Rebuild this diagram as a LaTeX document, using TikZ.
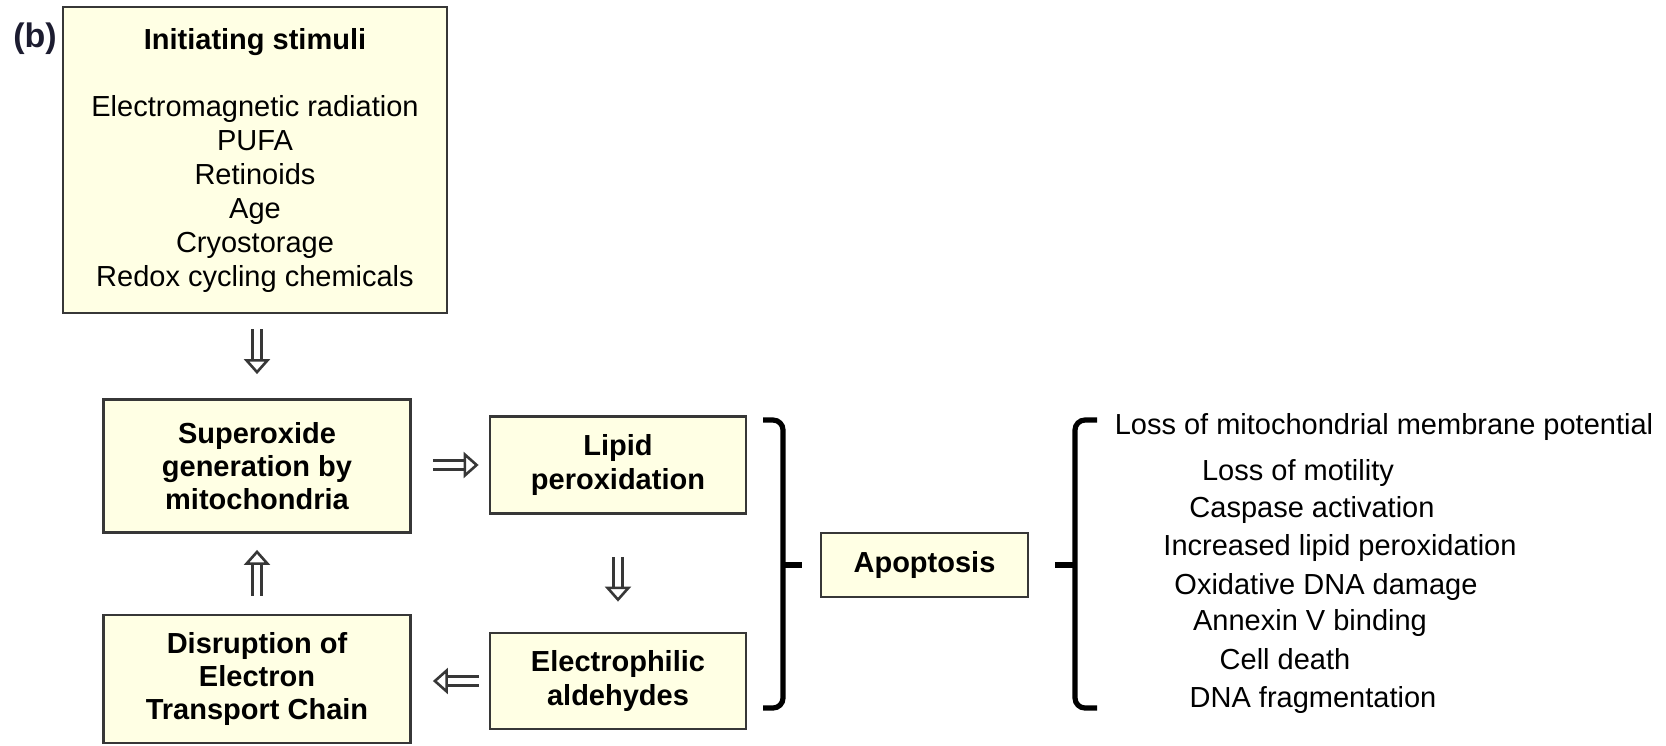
\documentclass[tikz,border=0pt]{standalone}
\usepackage{fontspec}
\setmainfont{Liberation Sans}
\usetikzlibrary{arrows.meta}

\definecolor{boxfill}{RGB}{255,255,228}
\definecolor{boxline}{RGB}{55,55,55}
\definecolor{arrline}{RGB}{55,55,55}
\definecolor{tagcol}{RGB}{28,28,48}

\begin{document}
\begin{tikzpicture}[
  x=0.5pt, y=-0.5pt,
  box/.style={draw=boxline, fill=boxfill, line width=1.4pt, align=center, inner sep=0pt,
              font=\fontsize{14.5}{16.6}\selectfont\bfseries},
  hollow/.style={draw=arrline, double=white, line width=1.3pt, double distance=3.2pt,
                 -{Triangle[fill=white, line width=1.3pt, length=7.5pt, width=13pt]}},
  brk/.style={line width=2.6pt, rounded corners=5pt},
  lst/.style={font=\fontsize{14.5}{17}\selectfont, inner sep=0pt, text height=10.5pt, text depth=3pt}
]
\useasboundingbox (0,0) rectangle (1666,745);

\node[font=\fontsize{17}{20}\selectfont\bfseries, text=tagcol] (tag) at (35,39) {(b)};

\node[box, font=\fontsize{14.5}{17}\selectfont, minimum width=192pt, minimum height=153pt] (stim) at (255,160)
  {\textbf{Initiating stimuli}\\[16.5pt]Electromagnetic radiation\\PUFA\\Retinoids\\Age\\Cryostorage\\Redox cycling chemicals};
\node[box, minimum width=153.5pt, minimum height=66.5pt] (sup) at (257,466) {Superoxide\\generation by\\mitochondria};
\node[box, minimum width=128pt, minimum height=48.5pt] (lip) at (618,465) {Lipid\\peroxidation};
\node[box, minimum width=128pt, minimum height=48pt] (ele) at (618,681) {Electrophilic\\aldehydes};
\node[box, minimum width=153.5pt, minimum height=64pt] (dis) at (257,679) {Disruption of\\Electron\\Transport Chain};
\node[box, minimum width=103.5pt, minimum height=32pt] (apo) at (924.5,565) {Apoptosis};

\draw[hollow, shorten <=7.5pt, shorten >=12pt] (sup.north |- stim.south) -- (sup.north);
\draw[hollow, shorten <=10.5pt, shorten >=5pt] (sup.east |- lip.west) -- (lip.west);
\draw[hollow, shorten <=21pt, shorten >=15pt] (lip.south) -- (ele.north);
\draw[hollow, shorten <=5pt, shorten >=10.5pt] (ele.west) -- (ele.west -| dis.east);
\draw[hollow, shorten <=9pt, shorten >=8pt] (dis.north) -- (sup.south);

% brackets
\draw[brk] (763,420) -- (783,420) -- (783,708) -- (763,708);
\draw[brk] (783,565) -- (802,565);
\draw[brk] (1097,420) -- (1075,420) -- (1075,708) -- (1097,708);
\draw[brk] (1055,565) -- (1075,565);

\node[lst] (l1) at (1384,427) {Loss of mitochondrial membrane potential};
\node[lst] (l2) at (1298,473) {Loss of motility};
\node[lst] (l3) at (1312,510) {Caspase activation};
\node[lst] (l4) at (1340,548) {Increased lipid peroxidation};
\node[lst] (l5) at (1326,587) {Oxidative DNA damage};
\node[lst] (l6) at (1310,623) {Annexin V binding};
\node[lst] (l7) at (1285,662) {Cell death};
\node[lst] (l8) at (1313,700) {DNA fragmentation};
\end{tikzpicture}
\end{document}
